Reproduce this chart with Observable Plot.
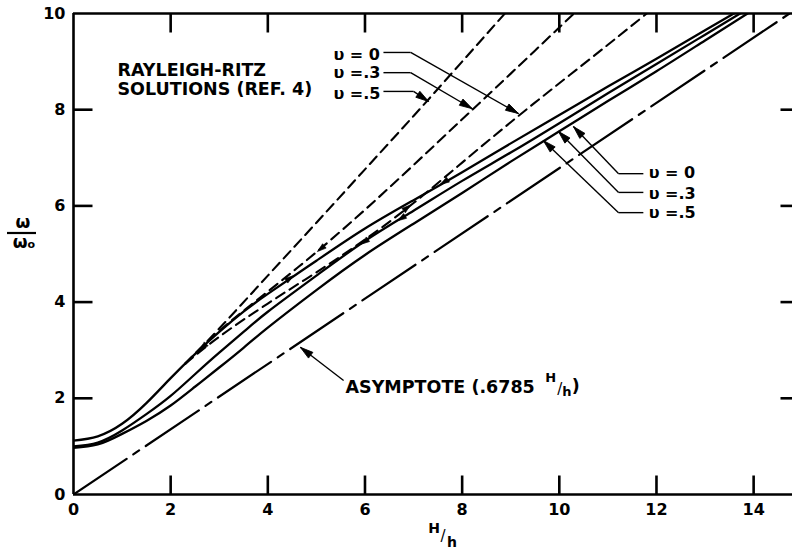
<!DOCTYPE html>
<html><head><meta charset="utf-8">
<script src="https://cdn.jsdelivr.net/npm/d3@7"></script>
<script src="https://cdn.jsdelivr.net/npm/@observablehq/plot@0.6"></script>
<style>
html,body{margin:0;padding:0;background:#fff;}
#chart svg{display:block;}
</style></head><body><div id="chart"></div>
<script>
// ---- data ----
const hh = [0, 0.5, 1, 1.5, 2, 2.5, 3, 3.5, 4, 5, 6, 7, 8, 9, 10, 11, 12, 13, 14];
const exactNu5 = [1.12, 1.21, 1.47, 1.9, 2.42, 2.92, 3.38, 3.8, 4.17, 4.86, 5.53, 6.12, 6.7, 7.3, 7.89, 8.48, 9.06, 9.65, 10.24];
const exactNu3 = [1.0, 1.08, 1.33, 1.67, 2.05, 2.5, 2.95, 3.38, 3.8, 4.55, 5.27, 5.9, 6.52, 7.11, 7.72, 8.34, 8.95, 9.56, 10.17];
const exactNu0 = [0.97, 1.04, 1.26, 1.53, 1.85, 2.24, 2.64, 3.05, 3.47, 4.25, 4.98, 5.63, 6.27, 6.92, 7.55, 8.18, 8.8, 9.44, 10.08];

const ritzNu5H = [2.3, 3, 4, 5, 6, 7, 8, 8.88, 9.2];
const ritzNu5 = [2.72, 3.45, 4.55, 5.65, 6.76, 7.87, 9.0, 10.0, 10.36];
const ritzNu3H = [2.3, 3, 4, 5, 6, 7, 8, 9, 10.3, 10.6];
const ritzNu3 = [2.72, 3.4, 4.22, 5.04, 5.92, 6.85, 7.8, 8.75, 10.0, 10.29];
const ritzNu0H = [2.3, 3, 4, 5, 6, 7, 8, 9, 10, 11, 11.8, 12.1];
const ritzNu0 = [2.72, 3.28, 3.97, 4.62, 5.3, 6.06, 6.9, 7.74, 8.55, 9.35, 10.0, 10.24];

const asymH = [0, 14.74];
const asymW = [0, 10];

const xTicks = [0, 2, 4, 6, 8, 10, 12, 14];
const yTicks = [0, 2, 4, 6, 8, 10];
const innerXTicks = [2, 4, 6, 8, 10, 12, 14];
const innerYTicks = [2, 4, 6, 8];

const nuLabels = ["υ = 0", "υ =.3", "υ =.5"];

// ---- annotation placement (data units) ----
const noteTexts = ["RAYLEIGH-RITZ", "SOLUTIONS (REF. 4)", "ASYMPTOTE (.6785"];
const noteX = [0.906, 0.906, 5.6];
const noteY = [8.71, 8.30, 2.12];
const leftNuX = 5.35, leftNuY = [9.04, 8.65, 8.23];
const rightNuX = 11.84, rightNuY = [6.57, 6.15, 5.74];

const segs = [
  {x1: 6.38, y1: 9.19, x2: 6.94, y2: 9.19}, {x1: 6.94, y1: 9.19, x2: 9.16, y2: 7.92},
  {x1: 6.38, y1: 8.77, x2: 6.94, y2: 8.77}, {x1: 6.94, y1: 8.77, x2: 8.21, y2: 8.02},
  {x1: 6.38, y1: 8.38, x2: 7.0, y2: 8.38},  {x1: 7.0, y1: 8.38, x2: 7.31, y2: 8.17},
  {x1: 11.73, y1: 6.67, x2: 11.22, y2: 6.67}, {x1: 11.22, y1: 6.67, x2: 10.29, y2: 7.65},
  {x1: 11.73, y1: 6.28, x2: 11.22, y2: 6.28}, {x1: 11.22, y1: 6.28, x2: 9.98, y2: 7.55},
  {x1: 11.73, y1: 5.86, x2: 11.22, y2: 5.86}, {x1: 11.22, y1: 5.86, x2: 9.67, y2: 7.36},
  {x1: 5.56, y1: 2.37, x2: 4.67, y2: 3.06}
];
const arrowIdx = [1, 3, 5, 7, 9, 11, 12];
const curveHeads = [
  {x: 7.55, y: 6.45, dx: -1, dy: -0.6},
  {x: 6.94, y: 6.02, dx: 1, dy: 0.8},
  {x: 6.67, y: 5.69, dx: -1, dy: -0.65},
  {x: 5.91, y: 5.20, dx: -1, dy: -0.7},
  {x: 5.02, y: 5.05, dx: -1, dy: -0.82},
  {x: 4.53, y: 4.55, dx: 1, dy: 0.7},
  {x: 2.6, y: 3.0, dx: -1, dy: -1}
];

// ---- build tables ----
const exactRows = [
  ...hh.map((h, i) => ({h, w: exactNu5[i], s: "ν=.5"})),
  ...hh.map((h, i) => ({h, w: exactNu3[i], s: "ν=.3"})),
  ...hh.map((h, i) => ({h, w: exactNu0[i], s: "ν=0"}))
];
const ritzRows = [
  ...ritzNu5H.map((h, i) => ({h, w: ritzNu5[i], s: "ν=.5"})),
  ...ritzNu3H.map((h, i) => ({h, w: ritzNu3[i], s: "ν=.3"})),
  ...ritzNu0H.map((h, i) => ({h, w: ritzNu0[i], s: "ν=0"}))
];
const asymRows = asymH.map((h, i) => ({h, w: asymW[i]}));
const notes = noteTexts.map((t, i) => ({x: noteX[i], y: noteY[i], t}));
const nuNotes = [
  ...nuLabels.map((t, i) => ({x: leftNuX, y: leftNuY[i], t})),
  ...nuLabels.map((t, i) => ({x: rightNuX, y: rightNuY[i], t}))
];

const W = 792, H = 549, mL = 73, mR = 0, mT = 13, mB = 55;
const xDomain = [0, 14.8], yDomain = [0, 10];
const pxPerX = (W - mL - mR) / (xDomain[1] - xDomain[0]);
const pxPerY = (H - mT - mB) / (yDomain[1] - yDomain[0]);
const ang = (dx, dy) => Math.atan2(dx * pxPerX, dy * pxPerY) * 180 / Math.PI;
const heads = arrowIdx.map(k => {
  const s = segs[k];
  return {x: s.x2, y: s.y2, a: ang(s.x2 - s.x1, s.y2 - s.y1)};
});
const smallHeads = curveHeads.map(c => ({x: c.x, y: c.y, a: ang(c.dx, c.dy)}));
const headSym = {draw(ctx) { ctx.moveTo(0, 0); ctx.lineTo(3.6, 13); ctx.lineTo(-3.6, 13); ctx.closePath(); }};
const smallHeadSym = {draw(ctx) { ctx.moveTo(0, 0); ctx.lineTo(2.8, 9); ctx.lineTo(-2.8, 9); ctx.closePath(); }};

// inward tick marks: 19px long on left/top/bottom, 12px at the cropped right edge
const tyLen = 19 / pxPerY, txLen = 19 / pxPerX, txrLen = 12 / pxPerX;
const tickSegs = [
  ...innerXTicks.map(t => ({a: t, b: t, c: yDomain[0], d: yDomain[0] + tyLen})),
  ...innerXTicks.map(t => ({a: t, b: t, c: yDomain[1] - tyLen, d: yDomain[1]})),
  ...innerYTicks.map(t => ({a: xDomain[0], b: xDomain[0] + txLen, c: t, d: t})),
  ...innerYTicks.map(t => ({a: xDomain[1] - txrLen, b: xDomain[1], c: t, d: t}))
];

const FONT = "'DejaVu Sans', sans-serif";

const plot = Plot.plot({
  width: W, height: H,
  marginLeft: mL, marginRight: mR, marginTop: mT, marginBottom: mB,
  x: {domain: xDomain},
  y: {domain: yDomain},
  style: {fontFamily: FONT, fontSize: "16px", fontWeight: "bold", color: "black", background: "white", overflow: "visible"},
  marks: [
    Plot.line(asymRows, {x: "h", y: "w", stroke: "black", strokeWidth: 2.2, strokeDasharray: "64,8,7,8", clip: true}),
    Plot.line(ritzRows, {x: "h", y: "w", z: "s", stroke: "black", strokeWidth: 2.1, strokeDasharray: "10,6", curve: "natural", clip: true}),
    Plot.line(exactRows, {x: "h", y: "w", z: "s", stroke: "black", strokeWidth: 2.3, curve: "natural", clip: true}),
    Plot.link(segs, {x1: "x1", y1: "y1", x2: "x2", y2: "y2", stroke: "black", strokeWidth: 1.4}),
    Plot.link(tickSegs, {x1: "a", x2: "b", y1: "c", y2: "d", stroke: "black", strokeWidth: 2.6}),
    Plot.dot(heads, {x: "x", y: "y", rotate: "a", symbol: headSym, fill: "black", stroke: "black", strokeWidth: 0.8}),
    Plot.dot(smallHeads, {x: "x", y: "y", rotate: "a", symbol: smallHeadSym, fill: "black", stroke: "black", strokeWidth: 0.6}),
    Plot.text(notes, {x: "x", y: "y", text: "t", textAnchor: "start", lineAnchor: "bottom", fontSize: 17.5, fontWeight: "bold", fill: "black"}),
    Plot.text(nuNotes, {x: "x", y: "y", text: "t", textAnchor: "start", lineAnchor: "bottom", fontSize: 16, fontWeight: "bold", fill: "black"}),
    Plot.axisX(xTicks, {anchor: "bottom", tickSize: 0, tickPadding: 9, label: null}),
    Plot.axisY(yTicks, {anchor: "left", tickSize: 0, tickPadding: 8, label: null}),
    Plot.ruleY(yDomain, {stroke: "black", strokeWidth: 2.6}),
    Plot.ruleX([xDomain[0]], {stroke: "black", strokeWidth: 2.6})
  ]
});

const svg = d3.select(plot);
const g = svg.append("g").attr("font-family", FONT).attr("font-weight", "bold").attr("fill", "black");
g.append("text").attr("x", 23).attr("y", 228).attr("text-anchor", "middle").attr("font-size", 17).text("ω");
g.append("path").attr("d", "M7,233H36").attr("stroke", "black").attr("stroke-width", 2.2).attr("fill", "none");
const w0 = g.append("text").attr("x", 24).attr("y", 248).attr("text-anchor", "middle").attr("font-size", 17);
w0.append("tspan").text("ω");
w0.append("tspan").attr("font-size", 11).text("o");
g.append("text").attr("x", 434).attr("y", 533).attr("text-anchor", "middle").attr("font-size", 14).text("H");
g.append("text").attr("x", 443).attr("y", 541).attr("text-anchor", "middle").attr("font-size", 15).attr("font-weight", "normal").text("/");
g.append("text").attr("x", 452).attr("y", 547).attr("text-anchor", "middle").attr("font-size", 14).text("h");
const ax = mL + 10.0 * pxPerX, ay = H - mB - 2.12 * pxPerY;
g.append("text").attr("x", ax - 8).attr("y", ay - 10).attr("font-size", 13).text("H");
g.append("text").attr("x", ax + 1).attr("y", ay + 2).attr("font-size", 15).attr("font-weight", "normal").text("/");
g.append("text").attr("x", ax + 8).attr("y", ay + 4).attr("font-size", 13).text("h");
g.append("text").attr("x", ax + 17).attr("y", ay).attr("font-size", 17.5).text(")");

document.getElementById("chart").appendChild(plot);
</script>
</body></html>
